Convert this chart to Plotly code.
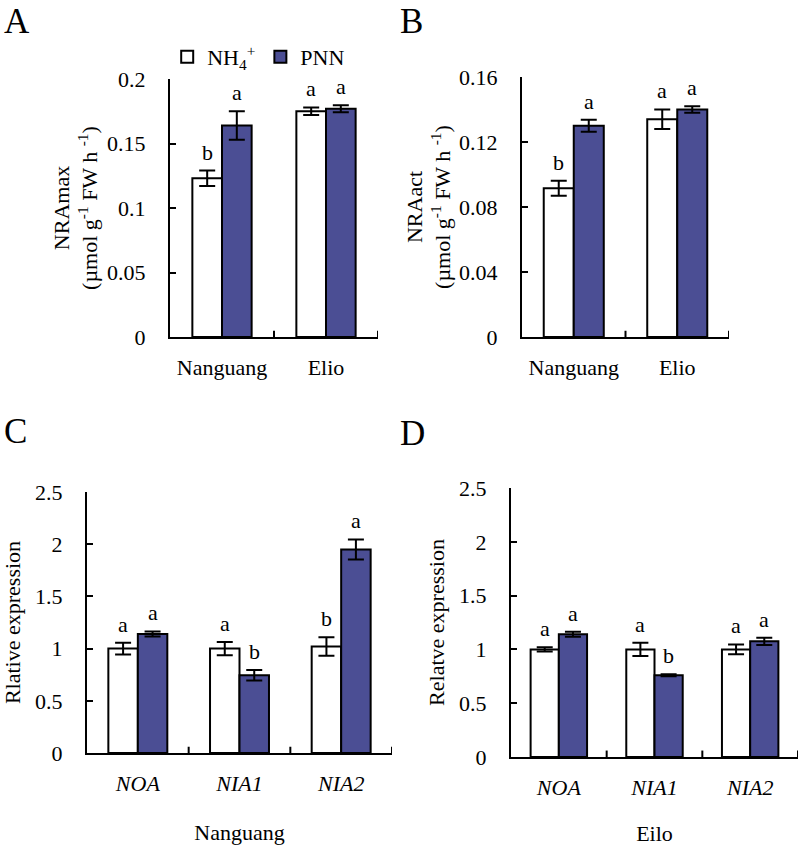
import plotly.graph_objects as go

# ---------------- data ----------------
cultivars = ["Nanguang", "Elio"]
genes = ["NOA", "NIA1", "NIA2"]

nramax_nh4 = [0.123, 0.175]
nramax_nh4_err = [0.006, 0.003]
nramax_pnn = [0.164, 0.177]
nramax_pnn_err = [0.011, 0.0027]
nramax_nh4_sig = ["b", "a"]
nramax_pnn_sig = ["a", "a"]

nraact_nh4 = [0.0915, 0.134]
nraact_nh4_err = [0.0046, 0.006]
nraact_pnn = [0.130, 0.140]
nraact_pnn_err = [0.0037, 0.002]
nraact_nh4_sig = ["b", "a"]
nraact_pnn_sig = ["a", "a"]

nang_nh4 = [1.0, 1.0, 1.02]
nang_nh4_err = [0.056, 0.064, 0.088]
nang_pnn = [1.14, 0.745, 1.95]
nang_pnn_err = [0.024, 0.05, 0.096]
nang_nh4_sig = ["a", "a", "b"]
nang_pnn_sig = ["a", "b", "a"]

eilo_nh4 = [1.0, 1.0, 1.0]
eilo_nh4_err = [0.019, 0.062, 0.046]
eilo_pnn = [1.14, 0.76, 1.075]
eilo_pnn_err = [0.023, 0.01, 0.034]
eilo_nh4_sig = ["a", "a", "a"]
eilo_pnn_sig = ["a", "b", "a"]

series_names = ["NH<sub>4</sub><sup>+</sup>", "PNN"]

# ---------------- style ----------------
FONT = "Liberation Serif, Times New Roman, serif"
FS = 22
BLUE = "#4B4E94"
W, H = 800, 846


def px(x0, x1):
    return [x0 / W, x1 / W]


def py(top, bottom):
    return [1 - bottom / H, 1 - top / H]


panels = [
    dict(cats=cultivars, a=nramax_nh4, ae=nramax_nh4_err, b=nramax_pnn, be=nramax_pnn_err,
         sa=nramax_nh4_sig, sb=nramax_pnn_sig, w=0.285, xd=px(170, 378), yd=py(79, 337),
         yr=[0, 0.2], dt=0.05, so=3,
         yt="NRAmax<br>(µmol g<sup>-1</sup> FW h <sup>-1</sup>)", xt=None, it=False),
    dict(cats=cultivars, a=nraact_nh4, ae=nraact_nh4_err, b=nraact_pnn, be=nraact_pnn_err,
         sa=nraact_nh4_sig, sb=nraact_pnn_sig, w=0.29, xd=px(522, 729), yd=py(77, 337),
         yr=[0, 0.16], dt=0.04, so=2,
         yt="NRAact<br>(µmol g<sup>-1</sup> FW h <sup>-1</sup>)", xt=None, it=False),
    dict(cats=genes, a=nang_nh4, ae=nang_nh4_err, b=nang_pnn, be=nang_pnn_err,
         sa=nang_nh4_sig, sb=nang_pnn_sig, w=0.29, xd=px(87, 392), yd=py(492, 753),
         yr=[0, 2.5], dt=0.5, so=12, yt="Rlative expression", xt="Nanguang", it=True),
    dict(cats=genes, a=eilo_nh4, ae=eilo_nh4_err, b=eilo_pnn, be=eilo_pnn_err,
         sa=eilo_nh4_sig, sb=eilo_pnn_sig, w=0.295, xd=px(511, 798), yd=py(488, 757),
         yr=[0, 2.5], dt=0.5, so=8, yt="Relatve expression", xt="Eilo", it=True),
]

fig = go.Figure()
annotations = []

for k, p in enumerate(panels):
    sfx = "" if k == 0 else str(k + 1)
    xa, ya = "x" + sfx, "y" + sfx
    n = len(p["cats"])
    idx = list(range(n))
    w = p["w"]
    for j, (vals, errs, sig, fill, off) in enumerate([
        (p["a"], p["ae"], p["sa"], "white", -w),
        (p["b"], p["be"], p["sb"], BLUE, 0.0),
    ]):
        fig.add_trace(go.Bar(
            x=idx, y=vals, width=w, offset=off,
            marker=dict(color=fill, line=dict(color="black", width=2)),
            error_y=dict(type="data", array=errs, color="black", thickness=2, width=8),
            name=series_names[j], showlegend=(k == 0),
            xaxis=xa, yaxis=ya,
        ))
        for i in idx:
            annotations.append(dict(
                x=i + off + w / 2, y=vals[i] + errs[i], xref=xa, yref=ya,
                text=sig[i], showarrow=False, yanchor="bottom", yshift=4,
                font=dict(family=FONT, size=FS, color="black"),
            ))
    ticktext = [f"<i>{c}</i>" for c in p["cats"]] if p["it"] else p["cats"]
    xkw = dict(
        domain=p["xd"], anchor=ya, range=[-0.5, n - 0.5],
        tickmode="array", tickvals=idx, ticktext=ticktext,
        showline=True, linecolor="black", linewidth=2, mirror=False,
        ticks="", showgrid=False, zeroline=False, automargin=False,
        ticklabelstandoff=10,
        tickfont=dict(family=FONT, size=FS, color="black"),
    )
    if p["xt"]:
        xkw["title"] = dict(text=p["xt"], font=dict(family=FONT, size=FS, color="black"), standoff=29)
    ykw = dict(
        domain=p["yd"], anchor=xa, range=p["yr"], dtick=p["dt"], tick0=0,
        showline=True, linecolor="black", linewidth=2,
        ticks="inside", ticklen=6, tickwidth=2, tickcolor="black",
        showgrid=False, zeroline=False, ticklabelstandoff=18, automargin=False,
        tickfont=dict(family=FONT, size=FS, color="black"),
        title=dict(text=p["yt"], font=dict(family=FONT, size=FS, color="black"), standoff=p["so"]),
    )
    fig.layout["xaxis" + sfx] = xkw
    fig.layout["yaxis" + sfx] = ykw
    # category boundary ticks pointing up
    for b in range(1, n + 1):
        fig.add_shape(type="line", xref=xa, yref=ya,
                      x0=b - 0.5, x1=b - 0.5, y0=0, y1=p["yr"][1] * 0.024,
                      line=dict(color="black", width=2))

# panel letters
for lab, x0, y0 in [("A", 2, 0), ("B", 398, 0), ("C", 2, 410), ("D", 398, 412)]:
    annotations.append(dict(
        x=x0 / W, y=1 - y0 / H, xref="paper", yref="paper", xanchor="left", yanchor="top",
        text=lab, showarrow=False, font=dict(family=FONT, size=35, color="black"),
    ))

fig.update_layout(
    width=W, height=H, margin=dict(l=0, r=0, t=0, b=0, autoexpand=False),
    paper_bgcolor="white", plot_bgcolor="white",
    font=dict(family=FONT, size=FS, color="black"),
    annotations=annotations,
    barmode="overlay",
    legend=dict(orientation="h", x=0.209, y=1 - 36 / H, xanchor="left", yanchor="top",
                font=dict(family=FONT, size=FS, color="black"), bgcolor="rgba(0,0,0,0)"),
)

fig.write_html("out.html", config={"displayModeBar": False},
               post_script="document.body.style.margin='0px';")
